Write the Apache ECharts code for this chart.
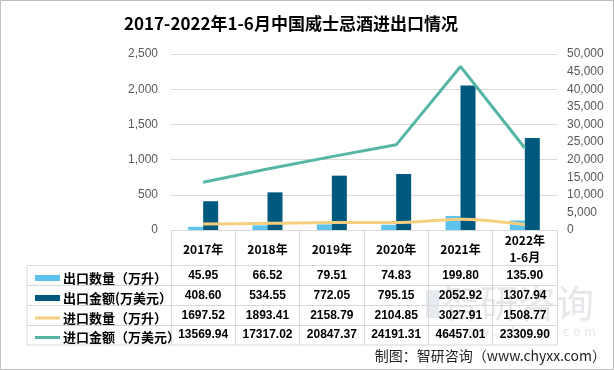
<!DOCTYPE html>
<html><head><meta charset="utf-8">
<script src="https://cdn.jsdelivr.net/npm/echarts@6/dist/echarts.min.js"></script>
<style>html,body{margin:0;padding:0;background:#fff}#c{width:614px;height:370px}</style>
</head><body><div id="c"></div>
<script>
const categories = ['2017年','2018年','2019年','2020年','2021年','2022年\n1-6月'];
const exportQty = [45.95, 66.52, 79.51, 74.83, 199.80, 135.90];
const exportVal = [408.60, 534.55, 772.05, 795.15, 2052.92, 1307.94];
const importQty = [1697.52, 1893.41, 2158.79, 2104.85, 3027.91, 1508.77];
const importVal = [13569.94, 17317.02, 20847.37, 24191.31, 46457.01, 23309.90];
const seriesNames = ['出口数量（万升）','出口金额(万美元）','进口数量（万升）','进口金额（万美元）'];
const seriesData = [exportQty, exportVal, importQty, importVal];
const colors = ['#5ec3ec','#005a80','#f5cf7e','#56b6a5'];

const FONT = '"Noto Sans CJK SC","Noto Sans",sans-serif';
const NUMFONT = '"Liberation Sans",sans-serif';
const gridTop = 54, gridBottomY = 230, gridLeft = 171, gridRightX = 557;
const rowCenters = [275.5, 295.5, 315.5, 335];
const rowLines = [265.5, 285.5, 305.5, 325.5, 345];
const fmt = v => v.toLocaleString('en-US');

const xAxes = [{
  type: 'category', data: categories, gridIndex: 0, position: 'bottom',
  axisLine: {lineStyle: {color: '#d9d9d9'}},
  axisTick: {show: true, length: 345 - gridBottomY, lineStyle: {color: '#d9d9d9'}},
  axisLabel: {color: '#000', fontWeight: 'bold', fontSize: 12, fontFamily: FONT,
    verticalAlign: 'middle', margin: 19, lineHeight: 17, interval: 0}
}];
seriesData.forEach((arr, i) => {
  xAxes.push({
    type: 'category', gridIndex: 0, position: 'bottom',
    data: arr.map(v => v.toFixed(2)), offset: rowCenters[i] - gridBottomY,
    axisLine: {show: false}, axisTick: {show: false}, splitLine: {show: false},
    axisLabel: {color: '#000', fontWeight: 'bold', fontSize: 12, fontFamily: NUMFONT,
      verticalAlign: 'middle', margin: 0, interval: 0}
  });
});

const legends = seriesNames.map((n, i) => ({
  data: [n], left: 30, top: rowCenters[i] - 9, orient: 'horizontal',
  itemWidth: 25, itemHeight: i < 2 ? 6 : 3, itemGap: 2, icon: 'rect',
  selectedMode: false,
  textStyle: {color: '#000', fontWeight: 'bold', fontSize: 13, fontFamily: FONT, padding: [0,0,0,-2]}
}));

const graphics = [
  {type: 'rect', shape: {x: 0.5, y: 0.5, width: 613, height: 369}, style: {fill: 'none', stroke: '#bfbfbf', lineWidth: 1}, silent: true},
  {type: 'line', shape: {x1: 27, y1: rowLines[0], x2: 27, y2: rowLines[4]}, style: {stroke: '#d9d9d9', lineWidth: 1}, silent: true}
];
rowLines.forEach(y => graphics.push({type: 'line', shape: {x1: 27, y1: y, x2: gridRightX, y2: y}, style: {stroke: '#d9d9d9', lineWidth: 1}, silent: true}));
graphics.push({type: 'text', left: 442, top: 284, z: -1, style: {text: '智研咨询', fill: 'rgba(160,168,180,0.28)', font: '38px "Noto Sans CJK SC"'}, silent: true});
graphics.push({type: 'text', left: 452, top: 327, z: -1, style: {text: 'w w w . c h y x x . c o m', fill: 'rgba(160,168,180,0.3)', font: '12px "DejaVu Sans"'}, silent: true});
graphics.push({type: 'rect', shape: {x: 426, y: 290, width: 13, height: 28}, z: -1, style: {fill: 'rgba(120,145,175,0.18)'}, silent: true});
graphics.push({type: 'text', right: 8, top: 349, style: {text: '制图：智研咨询（www.chyxx.com）', fill: '#222', font: '14px "Noto Sans CJK SC"'}, silent: true});

const chart = echarts.init(document.getElementById('c'));
chart.setOption({
  animation: false,
  backgroundColor: '#fff',
  title: {text: '2017-2022年1-6月中国威士忌酒进出口情况', left: 119, top: 10,
    textStyle: {fontSize: 17, fontWeight: 'bold', color: '#000', fontFamily: FONT}},
  legend: legends,
  grid: {left: gridLeft, right: 614 - gridRightX, top: gridTop, bottom: 370 - gridBottomY, containLabel: false},
  xAxis: xAxes,
  yAxis: [
    {type: 'value', min: 0, max: 2500, interval: 500,
      axisLine: {show: false}, axisTick: {show: false},
      splitLine: {lineStyle: {color: '#d9d9d9'}},
      axisLabel: {color: '#595959', fontSize: 12, fontFamily: NUMFONT, margin: 13, formatter: fmt}},
    {type: 'value', min: 0, max: 50000, interval: 5000, position: 'right',
      axisLine: {show: false}, axisTick: {show: false}, splitLine: {show: false},
      axisLabel: {color: '#595959', fontSize: 12, fontFamily: NUMFONT, margin: 10, formatter: fmt}}
  ],
  graphic: graphics,
  series: [
    {name: seriesNames[0], type: 'bar', data: exportQty, yAxisIndex: 0, xAxisIndex: 0,
      itemStyle: {color: colors[0]}, barWidth: 15, barGap: '0%'},
    {name: seriesNames[1], type: 'bar', data: exportVal, yAxisIndex: 0, xAxisIndex: 0,
      itemStyle: {color: colors[1]}, barWidth: 15, barGap: '0%'},
    {name: seriesNames[2], type: 'line', data: importQty, yAxisIndex: 1, xAxisIndex: 0,
      smooth: 0.3, showSymbol: false, lineStyle: {color: colors[2], width: 3}, itemStyle: {color: colors[2]}},
    {name: seriesNames[3], type: 'line', data: importVal, yAxisIndex: 1, xAxisIndex: 0,
      showSymbol: false, lineStyle: {color: colors[3], width: 3}, itemStyle: {color: colors[3]}}
  ]
});
</script></body></html>
